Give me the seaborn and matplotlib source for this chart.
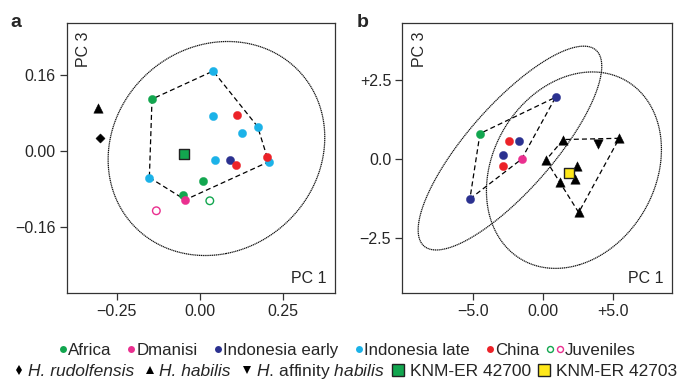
import numpy as np
import pandas as pd
import matplotlib
matplotlib.use("Agg")
import matplotlib.pyplot as plt
import seaborn as sns
from matplotlib.lines import Line2D
from matplotlib.legend_handler import HandlerBase

# ---- panel a values (PC1, PC3) ----
A_AFRICA_X = [-0.144, 0.008, -0.050]
A_AFRICA_Y = [0.109, -0.064, -0.093]
A_DMANISI_X = [-0.044]
A_DMANISI_Y = [-0.103]
A_INDO_EARLY_X = [0.092]
A_INDO_EARLY_Y = [-0.019]
A_INDO_LATE_X = [0.040, 0.040, 0.174, 0.127, 0.207, 0.047, -0.152]
A_INDO_LATE_Y = [0.168, 0.074, 0.051, 0.038, -0.023, -0.020, -0.056]
A_CHINA_X = [0.112, 0.201, 0.108]
A_CHINA_Y = [0.075, -0.013, -0.029]
A_JUV_AFRICA_X = [0.030]
A_JUV_AFRICA_Y = [-0.105]
A_JUV_DMANISI_X = [-0.131]
A_JUV_DMANISI_Y = [-0.126]
A_RUDOLF_X = [-0.301]
A_RUDOLF_Y = [0.027]
A_HABILIS_X = [-0.308]
A_HABILIS_Y = [0.090]
A_KNM42700_X = [-0.047]
A_KNM42700_Y = [-0.007]

# ---- panel b values ----
B_AFRICA_X = [-4.52]
B_AFRICA_Y = [0.81]
B_DMANISI_X = [-1.55]
B_DMANISI_Y = [0.00]
B_INDO_EARLY_X = [0.88, -1.76, -2.88, -5.24]
B_INDO_EARLY_Y = [1.96, 0.56, 0.12, -1.26]
B_CHINA_X = [-2.47, -2.86]
B_CHINA_Y = [0.56, -0.21]
B_HABILIS_X = [1.43, 5.43, 0.19, 2.43, 2.29, 1.19, 2.53]
B_HABILIS_Y = [0.62, 0.66, -0.03, -0.21, -0.63, -0.74, -1.69]
B_AFF_HABILIS_X = [3.93]
B_AFF_HABILIS_Y = [0.47]
B_KNM42703_X = [1.81]
B_KNM42703_Y = [-0.45]

# ellipses: centre and shape matrix (xx, xy, yy) in data units
A_ELLIPSE = dict(cx=0.050, cy=0.005, sxx=0.1064, sxy=0.0076, syy=0.0507)
B_ELLIPSE_EREC = dict(cx=-2.38, cy=0.35, sxx=43.0, sxy=17.0, syy=10.42)
B_ELLIPSE_HAB = dict(cx=2.19, cy=-0.35, sxx=39.06, sxy=4.1, syy=9.68)

A_XTICKS = [-0.25, 0.0, 0.25]
A_XTICKLABELS = ["\u22120.25", "0.00", "0.25"]
A_YTICKS = [-0.16, 0.0, 0.16]
A_YTICKLABELS = ["\u22120.16", "0.00", "0.16"]
B_XTICKS = [-5.0, 0.0, 5.0]
B_XTICKLABELS = ["\u22125.0", "0.00", "+5.0"]
B_YTICKS = [-2.5, 0.0, 2.5]
B_YTICKLABELS = ["\u22122.5", "0.0", "+2.5"]

COLORS = {
    "Africa": "#12a64f",
    "Dmanisi": "#ea2f8f",
    "Indonesia early": "#2b3190",
    "Indonesia late": "#1bb2e8",
    "China": "#ec2228",
}
YELLOW = "#ffe81a"
EDGE = "#333333"


def build_df(groups):
    frames = []
    for name, xs, ys in groups:
        frames.append(pd.DataFrame({"x": xs, "y": ys, "group": name}))
    return pd.concat(frames, ignore_index=True)


def convex_hull(pts):
    pts = sorted(set(map(tuple, pts)))

    def cross(o, a, b):
        return (a[0] - o[0]) * (b[1] - o[1]) - (a[1] - o[1]) * (b[0] - o[0])

    lower, upper = [], []
    for p in pts:
        while len(lower) >= 2 and cross(lower[-2], lower[-1], p) <= 0:
            lower.pop()
        lower.append(p)
    for p in reversed(pts):
        while len(upper) >= 2 and cross(upper[-2], upper[-1], p) <= 0:
            upper.pop()
        upper.append(p)
    hull = lower[:-1] + upper[:-1]
    hull.append(hull[0])
    return np.array(hull)


def draw_ellipse(ax, e):
    cov = np.array([[e["sxx"], e["sxy"]], [e["sxy"], e["syy"]]])
    vals, vecs = np.linalg.eigh(cov)
    t = np.linspace(0, 2 * np.pi, 300)
    circ = np.vstack([np.cos(t), np.sin(t)])
    pts = vecs @ np.diag(np.sqrt(vals)) @ circ
    ax.plot(pts[0] + e["cx"], pts[1] + e["cy"], color="#111111",
            lw=0.9, ls=(0, (1, 0.5)), zorder=1)


# marker, facecolor, edgecolor, size
STYLES = {
    "Africa": ("o", COLORS["Africa"], COLORS["Africa"], 35),
    "Dmanisi": ("o", COLORS["Dmanisi"], COLORS["Dmanisi"], 35),
    "Indonesia early": ("o", COLORS["Indonesia early"], COLORS["Indonesia early"], 35),
    "Indonesia late": ("o", COLORS["Indonesia late"], COLORS["Indonesia late"], 35),
    "China": ("o", COLORS["China"], COLORS["China"], 35),
    "Juv Africa": ("o", "none", COLORS["Africa"], 30),
    "Juv Dmanisi": ("o", "none", COLORS["Dmanisi"], 30),
    "rudolfensis": ("D", "black", "black", 22),
    "habilis": ("^", "black", "black", 46),
    "aff habilis": ("v", "black", "black", 46),
    "KNM-ER 42700": ("s", COLORS["Africa"], "#222222", 50),
    "KNM-ER 42703": ("s", YELLOW, "#222222", 50),
}


def scatter_groups(ax, df):
    for name, sub in df.groupby("group", sort=False):
        marker, fc, ec, s = STYLES[name]
        lw = 1.0 if fc == "none" or name.startswith("KNM") else 0.3
        sns.scatterplot(data=sub, x="x", y="y", ax=ax, marker=marker, s=s,
                        color=ec, facecolors=fc, edgecolor=ec, linewidth=lw,
                        legend=False, zorder=3)


def style_axes(ax, xlim, ylim, xt, xtl, yt, ytl):
    ax.set_xlim(xlim)
    ax.set_ylim(ylim)
    ax.set_xticks(xt)
    ax.set_xticklabels(xtl)
    ax.set_yticks(yt)
    ax.set_yticklabels(ytl)
    ax.set_xlabel("")
    ax.set_ylabel("")
    for sp in ax.spines.values():
        sp.set_visible(True)
        sp.set_color(EDGE)
        sp.set_linewidth(0.9)
    ax.tick_params(direction="out", length=5, width=0.9, color=EDGE,
                   labelsize=11.5, pad=3, top=False, right=False)
    ax.text(0.035, 0.97, "PC 3", transform=ax.transAxes, rotation=90,
            ha="left", va="top", fontsize=11.5)
    ax.text(0.97, 0.025, "PC 1", transform=ax.transAxes,
            ha="right", va="bottom", fontsize=11.5)


class RightMarkers(HandlerBase):
    """Legend handler: marker(s) pushed to the right end of the handle box."""

    def __init__(self, step=7.5):
        super().__init__()
        self.step = step

    def create_artists(self, legend, orig_handle, xdescent, ydescent,
                       width, height, fontsize, trans):
        handles = orig_handle if isinstance(orig_handle, tuple) else (orig_handle,)
        y = (height - ydescent) / 2
        artists = []
        for i, h in enumerate(reversed(handles)):
            ms = h.get_markersize()
            x = -xdescent + width - ms / 2 - 0.6 - i * self.step
            ln = Line2D([x], [y], ls="none", marker=h.get_marker(), markersize=ms,
                        markerfacecolor=h.get_markerfacecolor(),
                        markeredgecolor=h.get_markeredgecolor(),
                        markeredgewidth=h.get_markeredgewidth(), transform=trans)
            artists.append(ln)
        return artists


sns.set_theme(style="ticks")
plt.rcParams["font.family"] = ["Liberation Sans", "DejaVu Sans"]
plt.rcParams["mathtext.fontset"] = "custom"
plt.rcParams["mathtext.rm"] = "Liberation Sans"
plt.rcParams["mathtext.it"] = "Liberation Sans:italic"
plt.rcParams["axes.unicode_minus"] = True

fig = plt.figure(figsize=(6.83, 3.84), dpi=100)
ax_a = fig.add_axes([0.0981, 0.237, 0.3924, 0.703])
ax_b = fig.add_axes([0.589, 0.237, 0.3944, 0.703])

# ---- panel a ----
df_a = build_df([
    ("Africa", A_AFRICA_X, A_AFRICA_Y),
    ("Dmanisi", A_DMANISI_X, A_DMANISI_Y),
    ("Indonesia early", A_INDO_EARLY_X, A_INDO_EARLY_Y),
    ("Indonesia late", A_INDO_LATE_X, A_INDO_LATE_Y),
    ("China", A_CHINA_X, A_CHINA_Y),
    ("Juv Africa", A_JUV_AFRICA_X, A_JUV_AFRICA_Y),
    ("Juv Dmanisi", A_JUV_DMANISI_X, A_JUV_DMANISI_Y),
    ("rudolfensis", A_RUDOLF_X, A_RUDOLF_Y),
    ("habilis", A_HABILIS_X, A_HABILIS_Y),
    ("KNM-ER 42700", A_KNM42700_X, A_KNM42700_Y),
])
draw_ellipse(ax_a, A_ELLIPSE)
erectus = ["Africa", "Dmanisi", "Indonesia early", "Indonesia late", "China"]
hull = convex_hull(df_a[df_a["group"].isin(erectus)][["x", "y"]].values)
ax_a.plot(hull[:, 0], hull[:, 1], color="black", lw=0.9, ls=(0, (4, 2.5)), zorder=2)
scatter_groups(ax_a, df_a)
style_axes(ax_a, (-0.40, 0.407), (-0.299, 0.269),
           A_XTICKS, A_XTICKLABELS, A_YTICKS, A_YTICKLABELS)

# ---- panel b ----
df_b = build_df([
    ("Africa", B_AFRICA_X, B_AFRICA_Y),
    ("Dmanisi", B_DMANISI_X, B_DMANISI_Y),
    ("Indonesia early", B_INDO_EARLY_X, B_INDO_EARLY_Y),
    ("China", B_CHINA_X, B_CHINA_Y),
    ("habilis", B_HABILIS_X, B_HABILIS_Y),
    ("aff habilis", B_AFF_HABILIS_X, B_AFF_HABILIS_Y),
    ("KNM-ER 42703", B_KNM42703_X, B_KNM42703_Y),
])
draw_ellipse(ax_b, B_ELLIPSE_EREC)
draw_ellipse(ax_b, B_ELLIPSE_HAB)
for groups in [erectus, ["habilis", "aff habilis"]]:
    hull = convex_hull(df_b[df_b["group"].isin(groups)][["x", "y"]].values)
    ax_b.plot(hull[:, 0], hull[:, 1], color="black", lw=0.9, ls=(0, (4, 2.5)), zorder=2)
scatter_groups(ax_b, df_b)
style_axes(ax_b, (-10.07, 9.17), (-4.24, 4.31),
           B_XTICKS, B_XTICKLABELS, B_YTICKS, B_YTICKLABELS)

fig.text(0.015, 0.93, "a", fontsize=14, fontweight="bold", ha="left", va="baseline")
fig.text(0.522, 0.93, "b", fontsize=14, fontweight="bold", ha="left", va="baseline")

# ---- legends ----
def mk(marker, ms, fc, ec=None, mew=0.0):
    return Line2D([], [], ls="none", marker=marker, markersize=ms,
                  markerfacecolor=fc, markeredgecolor=ec or fc, markeredgewidth=mew)


handler = RightMarkers()
hmap = {Line2D: handler, tuple: handler}

row1 = [mk("o", 5, COLORS[k]) for k in erectus]
row1.append((mk("o", 4.3, "none", COLORS["Africa"], 1.0),
             mk("o", 4.3, "none", COLORS["Dmanisi"], 1.0)))
labels1 = erectus + ["Juveniles"]
fig.legend(row1, labels1, loc="center", bbox_to_anchor=(0.5, 0.088),
           ncol=6, frameon=False, fontsize=12.2, handlelength=1.15,
           handletextpad=0.05, columnspacing=0.3, borderpad=0, handler_map=hmap)

row2 = [
    mk("d", 4.6, "black"),
    mk("^", 5.5, "black"),
    mk("v", 5.5, "black"),
    mk("s", 9, COLORS["Africa"], "#222222", 1.0),
    mk("s", 9, YELLOW, "#222222", 1.0),
]
labels2 = ["H. rudolfensis", "H. habilis",
           r"$\it{H.}\,$affinity $\it{habilis}$", "KNM-ER 42700", "KNM-ER 42703"]
leg2 = fig.legend(row2, labels2, loc="center", bbox_to_anchor=(0.5, 0.033),
                  ncol=5, frameon=False, fontsize=12.5, handlelength=1.0,
                  handletextpad=0.25, columnspacing=0.2, borderpad=0,
                  handler_map=hmap)
for txt in leg2.get_texts()[:2]:
    txt.set_fontstyle("italic")

fig.savefig("out.png", dpi=100)
